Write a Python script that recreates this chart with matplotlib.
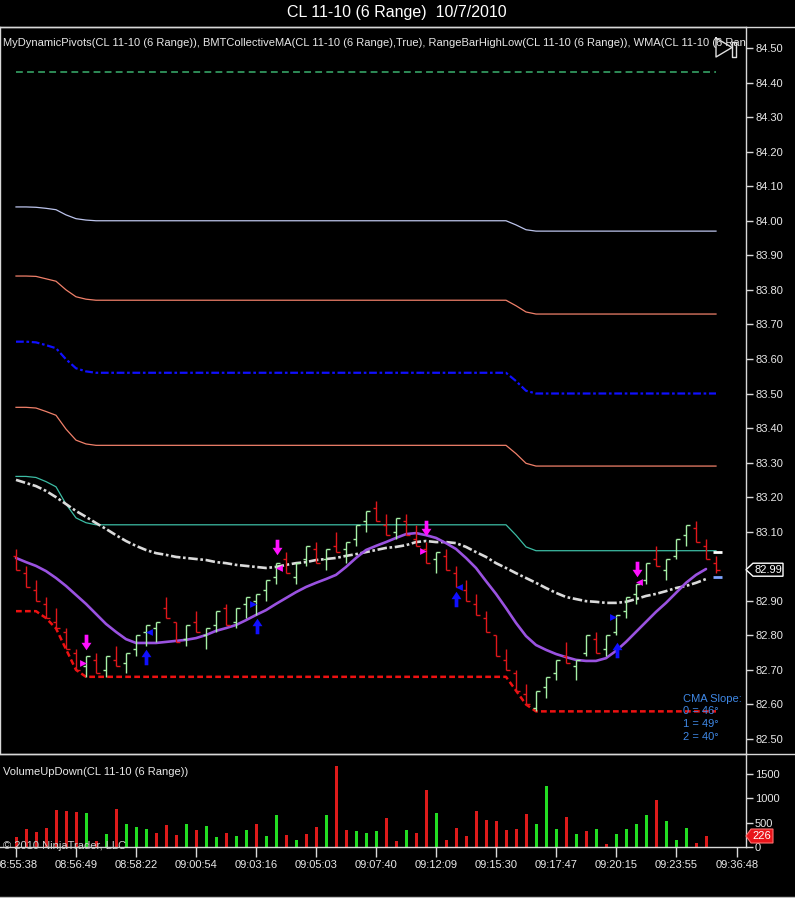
import numpy as np
import matplotlib
matplotlib.use('Agg')
import matplotlib.pyplot as plt
from matplotlib.path import Path
from matplotlib.patches import Polygon
from matplotlib.lines import Line2D

plt.rcParams['font.family'] = ['Liberation Sans', 'DejaVu Sans']

# ---------------- data ----------------
opens = [83.03, 82.98, 82.93, 82.89, 82.84, 82.81, 82.75, 82.71, 82.73, 82.70,
         82.73, 82.72, 82.76, 82.81, 82.82, 82.88, 82.84, 82.79, 82.84, 82.80,
         82.83, 82.88, 82.84, 82.89, 82.90, 82.93, 82.97, 83.02, 82.97, 83.02,
         83.05, 83.02, 83.06, 83.05, 83.08, 83.13, 83.17, 83.12, 83.10, 83.13,
         83.08, 83.05, 83.02, 83.03, 82.98, 82.93, 82.89, 82.85, 82.80, 82.73,
         82.69, 82.63, 82.59, 82.65, 82.69, 82.74, 82.71, 82.75, 82.79, 82.76,
         82.81, 82.87, 82.92, 82.96, 83.02, 82.99, 83.03, 83.09, 83.11, 83.06,
         83.01]
highs = [83.05, 83.00, 82.96, 82.91, 82.88, 82.82, 82.76, 82.74, 82.75, 82.74,
         82.77, 82.75, 82.80, 82.83, 82.84, 82.91, 82.84, 82.83, 82.87, 82.82,
         82.87, 82.89, 82.88, 82.91, 82.92, 82.96, 83.01, 83.04, 83.01, 83.06,
         83.07, 83.05, 83.10, 83.07, 83.12, 83.16, 83.19, 83.15, 83.14, 83.15,
         83.12, 83.07, 83.04, 83.05, 83.00, 82.96, 82.92, 82.87, 82.80, 82.76,
         82.70, 82.66, 82.64, 82.68, 82.73, 82.78, 82.73, 82.80, 82.81, 82.80,
         82.86, 82.91, 82.95, 83.01, 83.06, 83.02, 83.08, 83.12, 83.13, 83.08,
         83.03]
lows = [82.99, 82.94, 82.90, 82.85, 82.82, 82.76, 82.70, 82.68, 82.69, 82.68,
        82.71, 82.69, 82.74, 82.77, 82.78, 82.85, 82.78, 82.77, 82.81, 82.76,
        82.81, 82.83, 82.82, 82.85, 82.86, 82.90, 82.95, 82.98, 82.95, 83.00,
        83.01, 82.99, 83.04, 83.01, 83.06, 83.10, 83.13, 83.09, 83.08, 83.09,
        83.06, 83.01, 82.98, 82.99, 82.94, 82.90, 82.86, 82.81, 82.74, 82.70,
        82.64, 82.60, 82.58, 82.62, 82.67, 82.72, 82.67, 82.74, 82.75, 82.74,
        82.80, 82.85, 82.89, 82.95, 83.00, 82.96, 83.02, 83.06, 83.07, 83.02,
        82.98]
closes = [82.99, 82.94, 82.90, 82.85, 82.82, 82.76, 82.70, 82.74, 82.69, 82.74,
          82.71, 82.75, 82.80, 82.83, 82.84, 82.85, 82.78, 82.83, 82.81, 82.82,
          82.87, 82.83, 82.88, 82.91, 82.92, 82.96, 83.01, 82.98, 83.01, 83.06,
          83.01, 83.05, 83.04, 83.07, 83.12, 83.16, 83.13, 83.09, 83.14, 83.09,
          83.06, 83.01, 83.04, 82.99, 82.94, 82.90, 82.86, 82.81, 82.74, 82.70,
          82.64, 82.60, 82.64, 82.68, 82.73, 82.72, 82.73, 82.80, 82.75, 82.80,
          82.86, 82.91, 82.95, 83.01, 83.00, 83.02, 83.08, 83.12, 83.07, 83.02,
          82.99]

volume = [206, 365, 310, 385, 756, 742, 722, 708, 124, 261,
          777, 468, 412, 364, 295, 453, 247, 481, 350, 433,
          206, 295, 227, 350, 481, 227, 659, 247, 144, 268,
          412, 659, 1669, 350, 330, 288, 336, 604, 117, 343,
          288, 1167, 700, 137, 398, 220, 735, 563, 536, 343,
          378, 687, 467, 1250, 364, 618, 275, 323, 364, 69,
          261, 364, 467, 652, 975, 529, 137, 398, 82, 226]
vol_dir = list("dddddddudu" "duuudddudu" "uduuduudud"
               "dudduuuddu" "dduddddddd" "dduuududud" "uuuuduuudd")

piv_top = [84.43] * 71
piv_lav = [84.04, 84.04, 84.039, 84.036, 84.032, 84.017, 84.006, 84.002] + [84.00] * 42 + [83.988, 83.974] + [83.97] * 19
piv_sal1 = [83.84, 83.84, 83.839, 83.832, 83.825, 83.80, 83.78, 83.773] + [83.77] * 42 + [83.754, 83.736] + [83.73] * 19
piv_blue = [83.65, 83.65, 83.648, 83.64, 83.631, 83.599, 83.573, 83.564] + [83.56] * 42 + [83.536, 83.508] + [83.50] * 19
piv_sal2 = [83.46, 83.46, 83.458, 83.448, 83.437, 83.397, 83.365, 83.354] + [83.35] * 42 + [83.326, 83.298] + [83.29] * 19
piv_teal = [83.26, 83.26, 83.257, 83.245, 83.23, 83.18, 83.14, 83.126] + [83.12] * 42 + [83.09, 83.056] + [83.045] * 19
range_low = [82.87, 82.87, 82.87, 82.85, 82.82, 82.76, 82.70] + [82.68] * 43 + [82.64, 82.60] + [82.58] * 19

cma = [83.250, 83.241, 83.232, 83.218, 83.200, 83.180, 83.160, 83.143, 83.125, 83.108,
       83.090, 83.073, 83.059, 83.047, 83.038, 83.033, 83.027, 83.024, 83.021, 83.018,
       83.012, 83.009, 83.004, 83.001, 82.998, 82.995, 82.998, 83.004, 83.009, 83.012,
       83.018, 83.021, 83.024, 83.030, 83.035, 83.041, 83.047, 83.053, 83.056, 83.061,
       83.070, 83.073, 83.070, 83.070, 83.067, 83.056, 83.041, 83.027, 83.009, 82.995,
       82.980, 82.966, 82.952, 82.937, 82.923, 82.911, 82.905, 82.899, 82.897, 82.894,
       82.894, 82.897, 82.905, 82.914, 82.920, 82.928, 82.937, 82.943, 82.952, 82.963]
wma = [83.024, 83.012, 83.001, 82.986, 82.966, 82.943, 82.917, 82.891, 82.862, 82.833,
       82.810, 82.789, 82.778, 82.778, 82.778, 82.781, 82.784, 82.787, 82.792, 82.801,
       82.813, 82.821, 82.830, 82.844, 82.859, 82.873, 82.891, 82.908, 82.925, 82.940,
       82.952, 82.963, 82.975, 82.998, 83.024, 83.047, 83.059, 83.070, 83.082, 83.093,
       83.096, 83.090, 83.082, 83.067, 83.050, 83.024, 82.995, 82.957, 82.920, 82.879,
       82.836, 82.798, 82.772, 82.758, 82.746, 82.737, 82.729, 82.726, 82.726, 82.734,
       82.755, 82.781, 82.810, 82.839, 82.868, 82.894, 82.923, 82.952, 82.975, 82.992]

down_arrow_x = [8.0, 27.1, 42.0, 63.1]
down_arrow_y = [82.781, 83.055, 83.11, 82.992]
up_arrow_x = [14.0, 25.07, 45.0, 61.07]
up_arrow_y = [82.736, 82.826, 82.904, 82.758]
mag_tri_x = [7.73, 27.33, 41.67, 63.33]
mag_tri_y = [82.721, 82.995, 83.045, 82.954]
mag_tri_dir = ['>', '<', '>', '<']
blue_tri_x = [14.33, 24.73, 45.33, 60.73]
blue_tri_y = [82.811, 82.891, 82.941, 82.852]
blue_tri_dir = ['<', '>', '<', '>']

range_hi_mark = 83.04
range_lo_mark = 82.97
last_price = 82.99
last_volume = 226

time_tick_pos = [1, 7, 13, 19, 25, 31, 37, 43, 49, 55, 61, 67, 73.07]
time_tick_lab = ['08:55:38', '08:56:49', '08:58:22', '09:00:54', '09:03:16', '09:05:03',
                 '09:07:40', '09:12:09', '09:15:30', '09:17:47', '09:20:15', '09:23:55', '09:36:48']
price_ticks = [82.50, 82.60, 82.70, 82.80, 82.90, 83.10, 83.20, 83.30, 83.40, 83.50,
               83.60, 83.70, 83.80, 83.90, 84.00, 84.10, 84.20, 84.30, 84.40, 84.50]
vol_ticks = [0, 500, 1000, 1500]
slope_lines = ['CMA Slope:', '0 = 46°', '1 = 49°', '2 = 40°']
indicator_label = ('MyDynamicPivots(CL 11-10 (6 Range)), BMTCollectiveMA(CL 11-10 (6 Range),True), '
                   'RangeBarHighLow(CL 11-10 (6 Range)), WMA(CL 11-10 (6 Ran')

# ---------------- figure ----------------
W, H = 795, 898
fig = plt.figure(figsize=(W / 100, H / 100), dpi=100, facecolor='black')


def fx(px):
    return px / W


def fy(py):
    return 1 - py / H


FRAME = '#d8d8d8'
TXT = '#e8e8e8'

ax = fig.add_axes([0, fy(754), fx(746), fy(27) - fy(754)])
axv = fig.add_axes([0, fy(847), fx(746), fy(754) - fy(847)], sharex=ax)
for a in (ax, axv):
    a.set_facecolor('black')
    for s in a.spines.values():
        s.set_color(FRAME)
        s.set_linewidth(1)

ax.set_xlim(-0.6, 74.0)
ax.set_ylim(82.4566, 84.5608)
axv.set_ylim(0, 1911)

bars = np.arange(1, len(closes) + 1)
o = np.array(opens); h = np.array(highs); l = np.array(lows); c = np.array(closes)
up = c > o
cols = np.where(up, '#a6f0a6', '#e0161a')

# pivots
ax.plot(bars, piv_top, color='#2e8b57', lw=1.4, dashes=(3.5, 2.2))
ax.plot(bars, piv_lav, color='#bcc4ec', lw=0.9)
ax.plot(bars, piv_sal1, color='#f0806a', lw=0.9)
ax.plot(bars, piv_blue, color='#1010ff', lw=1.6, dashes=(3.5, 1.2, 1.2, 1.2))
ax.plot(bars, piv_sal2, color='#f0806a', lw=0.9)
ax.plot(bars, piv_teal, color='#3cbca4', lw=0.9)
ax.plot(bars, range_low, color='#ee1111', lw=1.8, dashes=(2.3, 1.3))

# moving averages
mb = bars[:len(cma)]
ax.plot(mb, cma, color='#dadada', lw=1.9, dashes=(3.6, 1.0, 1.0, 1.0))
ax.plot(mb, wma, color='#9a52e0', lw=1.9, solid_capstyle='round')

# OHLC bars
ax.vlines(bars, l, h, colors=cols, lw=1.0)
ax.hlines(o, bars - 0.35, bars, colors=cols, lw=1.0)
ax.hlines(c, bars, bars + 0.35, colors=cols, lw=1.0)

# range-bar high/low markers of the current bar
ax.hlines([range_hi_mark], bars[-1] - 0.3, bars[-1] + 0.6, colors='white', lw=2)
ax.hlines([range_lo_mark], bars[-1] - 0.3, bars[-1] + 0.6, colors='#7ea4ff', lw=2)

# arrows
up_path = Path([(-0.12, -0.5), (0.12, -0.5), (0.12, 0.02), (0.32, 0.02), (0, 0.5),
                (-0.32, 0.02), (-0.12, 0.02), (-0.12, -0.5)],
               [Path.MOVETO] + [Path.LINETO] * 6 + [Path.CLOSEPOLY])
down_path = Path([(x, -y) for x, y in up_path.vertices], up_path.codes)
ax.scatter(down_arrow_x, down_arrow_y, marker=down_path, s=125, c='#ff10ff', linewidths=0, zorder=5)
ax.scatter(up_arrow_x, up_arrow_y, marker=up_path, s=125, c='#1010ff', linewidths=0, zorder=5)
for x, y, d in zip(mag_tri_x, mag_tri_y, mag_tri_dir):
    ax.scatter([x], [y], marker=d, s=24, c='#ff10ff', linewidths=0, zorder=5)
for x, y, d in zip(blue_tri_x, blue_tri_y, blue_tri_dir):
    ax.scatter([x], [y], marker=d, s=24, c='#1010ff', linewidths=0, zorder=5)

# volume
vcols = ['#22dd22' if d == 'u' else '#dd1a1a' for d in vol_dir]
axv.bar(bars[:len(volume)], volume, width=0.3, color=vcols, linewidth=0)

# axes ticks
ax.yaxis.tick_right()
ax.set_yticks(price_ticks)
ax.set_yticklabels(['%.2f' % p for p in price_ticks])
ax.tick_params(axis='y', colors=FRAME, labelcolor=TXT, length=5, width=1, pad=1.5, labelsize=8)
ax.tick_params(axis='x', bottom=False, labelbottom=False)
ax.spines['bottom'].set_visible(False)

axv.yaxis.tick_right()
axv.set_yticks(vol_ticks)
axv.set_yticklabels([str(v) for v in vol_ticks])
axv.tick_params(axis='y', colors=FRAME, labelcolor=TXT, length=5, width=1, pad=1.5, labelsize=8)
axv.set_xticks(time_tick_pos)
axv.set_xticklabels(time_tick_lab)
axv.tick_params(axis='x', colors=FRAME, labelcolor=TXT, length=7.5, width=1, pad=2, labelsize=8)
axv.spines['left'].set_visible(False)

# last price / last volume boxes
yt = ax.get_yaxis_transform()
hh = 6.5 / 345.5
px = lambda p: p / 746
box = Polygon([(1.0, last_price), (px(753), last_price + hh), (px(783), last_price + hh),
               (px(783), last_price - hh), (px(753), last_price - hh)],
              closed=True, transform=yt, facecolor='black', edgecolor='white', lw=1,
              clip_on=False, zorder=6)
ax.add_patch(box)
ax.text(px(768), last_price, '%.2f' % last_price, transform=yt, ha='center', va='center',
        fontsize=8, color='white', clip_on=False, zorder=7)

ytv = axv.get_yaxis_transform()
hv = 7 * 20.55
vbox = Polygon([(1.0, last_volume), (px(751), last_volume + hv), (px(773), last_volume + hv),
                (px(773), last_volume - hv), (px(751), last_volume - hv)],
               closed=True, transform=ytv, facecolor='#e8141a', edgecolor='#ff7070', lw=0.8,
               clip_on=False, zorder=6)
axv.add_patch(vbox)
axv.text(px(762), last_volume, str(last_volume), transform=ytv, ha='center', va='center',
         fontsize=8, color='white', clip_on=False, zorder=7)

# texts
fig.text(fx(397), fy(13), 'CL 11-10 (6 Range)  10/7/2010', ha='center', va='center',
         fontsize=11.5, color='white')
ax.text(3 / 746, 1 - (43 - 27) / (754 - 27), indicator_label,
        transform=ax.transAxes, ha='left', va='center', fontsize=8, color=TXT, clip_on=True)
axv.text(3 / 746, 1 - (772 - 754) / (847 - 754), 'VolumeUpDown(CL 11-10 (6 Range))',
         transform=axv.transAxes, ha='left', va='center', fontsize=8, color=TXT)
fig.text(fx(3), fy(846), '© 2010 NinjaTrader, LLC', ha='left', va='center',
         fontsize=8, color='#d0d0d0', zorder=10)
for i, s in enumerate(slope_lines):
    fig.text(fx(683), fy(699 + 12.5 * i), s, ha='left', va='center', fontsize=8, color='#3f88e6')

# frame lines spanning the full width
fig.add_artist(Line2D([0, 1], [fy(27), fy(27)], transform=fig.transFigure, color=FRAME, lw=1))
fig.add_artist(Line2D([0, 1], [fy(754), fy(754)], transform=fig.transFigure, color=FRAME, lw=1))
fig.add_artist(Line2D([0, 1], [fy(897), fy(897)], transform=fig.transFigure, color='#bbbbbb', lw=1))

# play / bar icon
ICON = '#e0e0e0'
fig.add_artist(Line2D([fx(716), fx(732), fx(716), fx(716)], [fy(38), fy(47.5), fy(57), fy(38)],
                      transform=fig.transFigure, color=ICON, lw=1))
fig.add_artist(Line2D([fx(732), fx(736), fx(736), fx(732), fx(732)], [fy(42), fy(42), fy(57), fy(57), fy(42)],
                      transform=fig.transFigure, color=ICON, lw=1))

fig.savefig('out.png', dpi=100, facecolor='black')
